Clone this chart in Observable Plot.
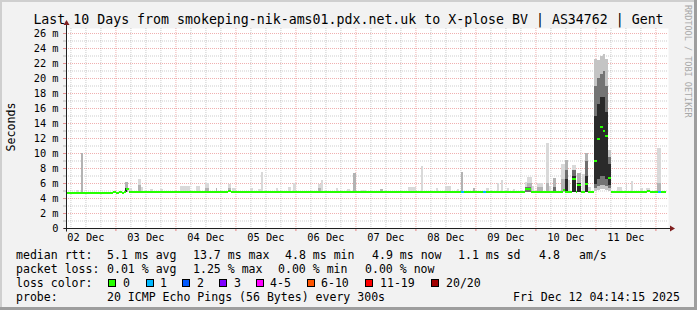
<!DOCTYPE html>
<html><head><meta charset="utf-8">
<script src="https://cdn.jsdelivr.net/npm/d3@7"></script>
<script src="https://cdn.jsdelivr.net/npm/@observablehq/plot@0.6"></script>
<style>
html,body{margin:0;padding:0;background:#f2f2f2;}
#chart{width:697px;height:310px;overflow:hidden;}
</style></head><body><div id="chart"></div>
<script>
// ---------- data ----------
const titleText = "Last 10 Days from smokeping-nik-ams01.pdx.net.uk to X-plose BV | AS34762 | Gent";
const yLabel = "Seconds";
const watermark = "RRDTOOL / TOBI OETIKER";
const startUTC = Date.UTC(2025, 11, 2, 4, 14, 15); // graph start (10 days before Fri Dec 12 04:14:15)
const spanHours = 240;

const xTickDays = [2, 3, 4, 5, 6, 7, 8, 9, 10, 11];
const xTickLabels = ["02 Dec", "03 Dec", "04 Dec", "05 Dec", "06 Dec", "07 Dec", "08 Dec", "09 Dec", "10 Dec", "11 Dec"];
const yTicks = [0, 2, 4, 6, 8, 10, 12, 14, 16, 18, 20, 22, 24, 26];
const yTickLabels = ["0", "2 m", "4 m", "6 m", "8 m", "10 m", "12 m", "14 m", "16 m", "18 m", "20 m", "22 m", "24 m", "26 m"];
const yMinorTicks = [1, 3, 5, 7, 9, 11, 13, 15, 17, 19, 21, 23, 25];

// smoke spikes: [startHour, endHour, top (ms), shade 0 light .. 3 dark]
const smokeFloor = 4.8;
const smokeSpikes = [
  [4.0, 5.2, 5.1, 0], [6.0, 6.8, 10.0, 1], [23.6, 24.8, 6.2, 1], [23.6, 24.4, 5.4, 3],
  [25.2, 26.4, 5.3, 0], [28.8, 30.0, 6.5, 0], [28.8, 30.0, 5.8, 1], [30.0, 30.8, 5.5, 0],
  [33.6, 34.8, 5.2, 0], [37.6, 38.8, 5.2, 0], [45.6, 49.6, 5.6, 0], [52.0, 53.6, 5.6, 0],
  [55.6, 57.2, 6.0, 0], [55.6, 57.2, 5.3, 1], [60.0, 60.4, 5.3, 1], [64.8, 66.0, 5.9, 0],
  [64.8, 66.0, 5.4, 1], [66.4, 68.0, 5.3, 0], [73.6, 74.8, 5.3, 0], [76.8, 78.0, 5.2, 0],
  [78.0, 78.8, 7.5, 0], [84.0, 84.8, 5.3, 0], [88.8, 90.0, 5.5, 0], [90.8, 92.0, 6.0, 0],
  [100.8, 102.4, 5.9, 0], [100.8, 102.0, 5.4, 1], [102.0, 102.8, 6.4, 0], [108.0, 108.8, 5.3, 0],
  [112.4, 113.6, 5.2, 0], [114.8, 116.0, 7.3, 1], [118.0, 120.0, 5.1, 0], [125.6, 126.8, 5.2, 1],
  [136.8, 140.0, 5.5, 0], [142.0, 142.8, 8.3, 0], [148.0, 148.8, 5.3, 0], [151.6, 154.0, 5.6, 0],
  [156.4, 157.2, 5.2, 0], [158.0, 158.8, 7.5, 1], [162.8, 163.6, 5.3, 1], [168.0, 169.2, 5.3, 0],
  [169.6, 170.4, 5.1, 0], [172.4, 173.2, 6.0, 0], [174.0, 174.8, 6.4, 0], [176.4, 177.2, 5.3, 0],
  [178.8, 179.6, 5.2, 0], [181.6, 182.8, 5.1, 0], [183.6, 184.4, 6.1, 0], [183.6, 184.4, 5.5, 2],
  [184.4, 186.4, 6.8, 0], [184.4, 186.4, 6.0, 1], [184.4, 186.0, 5.5, 2], [186.4, 187.2, 5.6, 0],
  [188.4, 190.8, 6.0, 0], [188.4, 190.8, 5.5, 1], [192.0, 193.2, 11.3, 0], [192.0, 193.2, 6.0, 1],
  [193.2, 194.0, 5.6, 0], [194.8, 196.0, 6.7, 1], [194.8, 196.0, 5.5, 2], [198.0, 199.6, 8.5, 0],
  [198.0, 199.6, 6.5, 1], [199.6, 200.8, 9.1, 1], [199.6, 200.8, 7.7, 2], [199.6, 200.8, 6.5, 3],
  [200.8, 201.6, 6.4, 0], [202.4, 204.0, 8.4, 0], [202.4, 204.0, 7.8, 2], [202.4, 204.0, 7.0, 3],
  [204.4, 206.0, 7.3, 1], [204.4, 206.0, 6.0, 3], [206.4, 207.6, 7.2, 0], [207.6, 208.8, 10.0, 1],
  [207.6, 208.8, 9.0, 2], [207.6, 208.8, 7.0, 3], [208.8, 210.0, 5.5, 0], [220.4, 222.4, 5.5, 0],
  [224.0, 224.4, 5.9, 0], [226.0, 226.8, 6.3, 0], [229.6, 230.8, 5.3, 0], [232.0, 233.6, 5.4, 0],
  [236.4, 238.0, 10.7, 0], [236.4, 238.0, 6.0, 1]
];
const smokeShades = ["#d9d9d9", "#b3b3b3", "#6e6e6e", "#2a2a2a"];

// burst of 11 Dec: [startHour, endHour, min, p10, p25, p75, p90, max]
const burstCols = [
  [211.2, 212.4, 5.0, 5.4, 5.9, 15.0, 19.0, 22.6],
  [212.4, 213.6, 5.1, 5.6, 6.5, 16.5, 20.0, 22.4],
  [213.6, 214.6, 5.2, 5.8, 7.0, 17.5, 20.5, 23.0],
  [214.6, 215.6, 5.2, 5.8, 7.0, 17.5, 21.0, 23.2],
  [215.6, 216.6, 5.1, 5.6, 6.5, 15.5, 19.0, 22.5],
  [216.6, 218.0, 5.0, 5.3, 5.8, 8.5, 9.5, 10.4]
];
const burstShades = ["#c4c4c4", "#747474", "#2a2a2a"];

// median rtt: [startHour, endHour, ms, loss color index]
const medianSegs = [
  [0, 18.8, 4.75, 0], [18.8, 20.0, 4.9, 0], [20.0, 21.2, 4.72, 0], [21.2, 22.4, 4.9, 0],
  [22.4, 23.2, 4.72, 0], [23.2, 24.0, 4.9, 0], [24.0, 25.0, 5.25, 0], [25.0, 64.8, 4.88, 0],
  [64.8, 66.0, 5.05, 0], [66.0, 158.0, 4.88, 0], [158.0, 159.0, 4.88, 1], [159.0, 166.8, 4.88, 0],
  [166.8, 168.0, 4.88, 1], [168.0, 183.6, 4.88, 0], [183.6, 186.0, 5.25, 0], [186.0, 198.8, 4.88, 0],
  [198.8, 199.6, 5.15, 0], [199.6, 202.4, 4.88, 0], [202.4, 204.0, 6.6, 0], [204.0, 204.4, 4.88, 0],
  [204.4, 206.0, 5.8, 0], [206.0, 207.6, 4.88, 0], [207.6, 208.8, 6.0, 0], [208.8, 211.2, 4.88, 0],
  [211.2, 212.4, 9.0, 0], [212.4, 213.6, 11.9, 0], [213.6, 214.6, 13.6, 0], [214.6, 215.6, 13.0, 0],
  [215.6, 216.6, 12.3, 0], [216.6, 218.0, 6.7, 0], [218.0, 232.4, 4.88, 0], [232.4, 233.6, 5.0, 0],
  [233.6, 236.8, 4.88, 0], [236.8, 238.0, 4.88, 1], [238.0, 240.0, 4.88, 0]
];

const lossLegend = [["0", "#26ff00"], ["1", "#00b8ff"], ["2", "#0059ff"], ["3", "#7e00ff"],
  ["4-5", "#ff00ff"], ["6-10", "#ff5500"], ["11-19", "#ff0000"], ["20/20", "#a00000"]];
const rttStats = ["5.1 ms avg", "13.7 ms max", "4.8 ms min", "4.9 ms now", "1.1 ms sd", "4.8", "am/s"];
const lossStats = ["0.01 % avg", "1.25 % max", "0.00 % min", "0.00 % now"];
const probeText = "20 ICMP Echo Pings (56 Bytes) every 300s";
const stampText = "Fri Dec 12 04:14:15 2025";

// ---------- helpers ----------
const hourMs = 3600e3;
const at = h => new Date(startUTC + h * hourMs);
const t0 = at(0), tEnd = at(spanHours + 0.8);
const noonTicks = xTickDays.map(d => new Date(Date.UTC(2025, 11, d, 12)));
const midnightTicks = d3.utcDay.range(t0, tEnd);
const sixHourTicks = d3.utcHour.every(6).range(t0, tEnd).filter(d => d.getUTCHours() !== 0);
const mono = "'DejaVu Sans Mono', monospace";
const majorGrid = "#de4f4f", minorGrid = "#8f8f8f";

const burstRects = [];
burstCols.forEach(c => {
  burstRects.push({h0: c[0], h1: c[1], lo: c[2], hi: c[7], s: 0});
  burstRects.push({h0: c[0], h1: c[1], lo: c[3], hi: c[6], s: 1});
  burstRects.push({h0: c[0], h1: c[1], lo: c[4], hi: c[5], s: 2});
});
const spikesSorted = smokeSpikes.slice().sort((a, b) => a[3] - b[3]);

const plot = Plot.plot({
  width: 697, height: 310,
  marginLeft: 66, marginRight: 29, marginTop: 28, marginBottom: 82,
  style: {background: "#f2f2f2", fontFamily: mono, fontSize: "10.3px", color: "black", overflow: "visible"},
  x: {type: "utc", domain: [t0, tEnd]},
  y: {domain: [0, 26.667]},
  color: {type: "identity"},
  marks: [
    Plot.frame({fill: "white", stroke: "none"}),
    Plot.ruleY(yMinorTicks, {stroke: minorGrid, strokeOpacity: 0.45, strokeDasharray: "1,1"}),
    Plot.ruleX(sixHourTicks, {stroke: minorGrid, strokeOpacity: 0.45, strokeDasharray: "1,1"}),
    Plot.ruleY(yTicks.filter(d => d > 0), {stroke: majorGrid, strokeOpacity: 0.45, strokeDasharray: "1,1"}),
    Plot.ruleX(midnightTicks, {stroke: majorGrid, strokeOpacity: 0.45, strokeDasharray: "1,1"}),
    Plot.rect(spikesSorted, {x1: d => at(d[0]), x2: d => at(d[1]), y1: smokeFloor, y2: d => d[2], fill: d => smokeShades[d[3]], shapeRendering: "crispEdges"}),
    Plot.rect(burstRects, {x1: d => at(d.h0), x2: d => at(d.h1), y1: "lo", y2: "hi", fill: d => burstShades[d.s], shapeRendering: "crispEdges"}),
    Plot.ruleY(medianSegs, {y: d => d[2], x1: d => at(d[0]), x2: d => at(d[1]), stroke: d => lossLegend[d[3]][1], strokeWidth: 2, shapeRendering: "crispEdges"}),
    Plot.axisY({ticks: yMinorTicks, tickSize: 3, tickFormat: () => "", stroke: minorGrid, strokeOpacity: 0.6}),
    Plot.axisY({ticks: yTicks, tickSize: 3, tickPadding: 5, stroke: majorGrid, strokeOpacity: 0.6, fill: "black",
      tickFormat: d => yTickLabels[yTicks.indexOf(d)], fontSize: "10.3px"}),
    Plot.axisX({ticks: midnightTicks, tickSize: 3, tickFormat: () => "", stroke: majorGrid, strokeOpacity: 0.7}),
    Plot.axisX({ticks: noonTicks, tickSize: 0, tickPadding: 5, fill: "black", fontSize: "10.3px",
      tickFormat: d => xTickLabels[noonTicks.findIndex(t => +t === +d)]})
  ]
});
document.getElementById("chart").appendChild(plot);

// ---------- decorations ----------
const svg = d3.select(plot);
const xs = plot.scale("x"), ys = plot.scale("y");
const ax = Math.round(xs.apply(t0)) + 0.5;
const ay = Math.round(ys.apply(0)) + 0.5;
const axRight = Math.round(xs.apply(tEnd));
const axTop = Math.round(ys.apply(26.667));
const deco = svg.append("g");
deco.append("line").attr("x1", ax - 3).attr("x2", axRight + 2).attr("y1", ay).attr("y2", ay).attr("stroke", "#1f1f1f");
deco.append("line").attr("x1", ax).attr("x2", ax).attr("y1", ay + 3).attr("y2", axTop - 4).attr("stroke", "#1f1f1f");
deco.append("path").attr("fill", "#801f1f")
  .attr("d", `M${ax - 3},${axTop - 3} L${ax + 3},${axTop - 3} L${ax},${axTop - 8} Z`);
deco.append("path").attr("fill", "#801f1f")
  .attr("d", `M${axRight + 2},${ay - 3} L${axRight + 2},${ay + 3} L${axRight + 7},${ay} Z`);

const txt = svg.append("g").attr("font-family", mono).attr("fill", "black")
  .attr("text-anchor", "start").style("white-space", "pre");
txt.append("text").attr("x", 348.5).attr("y", 24).attr("text-anchor", "middle").attr("font-size", "13.25px").text(titleText);
txt.append("text").attr("transform", "translate(15.3,127) rotate(-90)").attr("text-anchor", "middle")
  .attr("font-size", "11.6px").text(yLabel);
txt.append("text").attr("transform", "translate(685,5) rotate(90)").attr("text-anchor", "start").attr("font-size", "8.5px")
  .attr("fill", "#a8a8a8").text(watermark);

const legendFont = "11.56px";
const rowY = [259.3, 273, 286.8, 300.5];
const addText = (x, y, s) => txt.append("text").attr("x", x).attr("y", y).attr("text-anchor", "start")
  .attr("font-size", legendFont).text(s);
addText(16, rowY[0], "median rtt:");
[107, 193, 285, 372, 458, 539, 579].forEach((x, i) => addText(x, rowY[0], rttStats[i]));
addText(16, rowY[1], "packet loss:");
[107, 193, 278, 365].forEach((x, i) => addText(x, rowY[1], lossStats[i]));
addText(16, rowY[2], "loss color:");
const boxX = [108, 146, 182, 219, 256, 307, 365, 431];
const labX = [123, 160, 197, 234, 270, 321, 380, 446];
lossLegend.forEach(([lab, col], i) => {
  txt.append("rect").attr("x", boxX[i] + 0.5).attr("y", 279.5).attr("width", 7).attr("height", 7)
    .attr("fill", col).attr("stroke", "black");
  addText(labX[i], rowY[2], lab);
});
addText(16, rowY[3], "probe:");
addText(107, rowY[3], probeText);
addText(513, rowY[3], stampText);

// frame shading
const border = svg.append("g");
border.append("rect").attr("x", 0).attr("y", 0).attr("width", 697).attr("height", 2).attr("fill", "#cfcfcf");
border.append("rect").attr("x", 0).attr("y", 0).attr("width", 2).attr("height", 310).attr("fill", "#cfcfcf");
border.append("rect").attr("x", 0).attr("y", 307).attr("width", 697).attr("height", 3).attr("fill", "#9e9e9e");
border.append("rect").attr("x", 694).attr("y", 0).attr("width", 3).attr("height", 310).attr("fill", "#9e9e9e");
</script>
</body></html>
